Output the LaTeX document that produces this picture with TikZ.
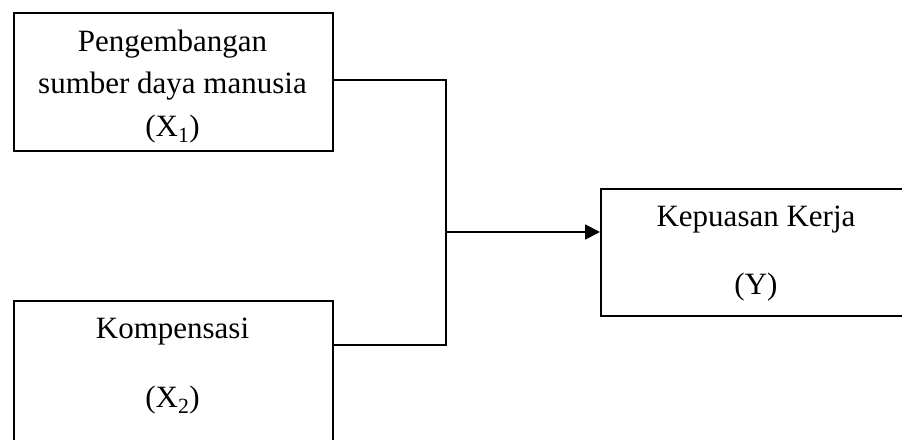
\documentclass[tikz,border=0pt]{standalone}
\usepackage{fontspec}
\setmainfont{Liberation Serif}
\usetikzlibrary{arrows.meta,calc}
\begin{document}
\begin{tikzpicture}[x=1pt,y=1pt,
  box/.style={draw,line width=1.8pt,anchor=north west,inner sep=0pt},
  lbl/.style={anchor=base,inner sep=0pt,font=\fontsize{31}{37}\selectfont},
  conn/.style={line width=1.8pt},
  arr/.style={line width=1.8pt,-{Triangle[length=15pt,width=15pt]}}]
\useasboundingbox (0,0) rectangle (902,439);
\clip (0,0) rectangle (902,439);
\node[box,minimum width=319pt,minimum height=138pt] (b1) at (13,427) {};
\node[box,minimum width=319pt,minimum height=170pt] (b2) at (13,139) {};
\node[box,minimum width=310pt,minimum height=127pt] (b3) at (600,251) {};
\node[lbl] (t1a) at (172.5,387) {Pengembangan};
\node[lbl] (t1b) at (172.5,345) {sumber daya manusia};
\node[lbl] (t1c) at (172.5,302) {(X\textsubscript{1})};
\node[lbl] (t2a) at (172.5,100) {Kompensasi};
\node[lbl] (t2b) at (172.5,31) {(X\textsubscript{2})};
\node[lbl] (t3a) at (756,212) {Kepuasan Kerja};
\node[lbl] (t3b) at (756,144) {(Y)};
\coordinate (o1) at (b1.east |- 0,359);
\coordinate (o2) at (b2.east |- 0,94);
\coordinate (j1) at (446,359);
\coordinate (j2) at (446,94);
\coordinate (jm) at (446,207);
\coordinate (in3) at (b3.west |- 0,207);
\draw[conn] (o1) -- (j1) -- (j2) -- (o2);
\draw[arr] (jm) -- (in3);
\end{tikzpicture}
\end{document}
